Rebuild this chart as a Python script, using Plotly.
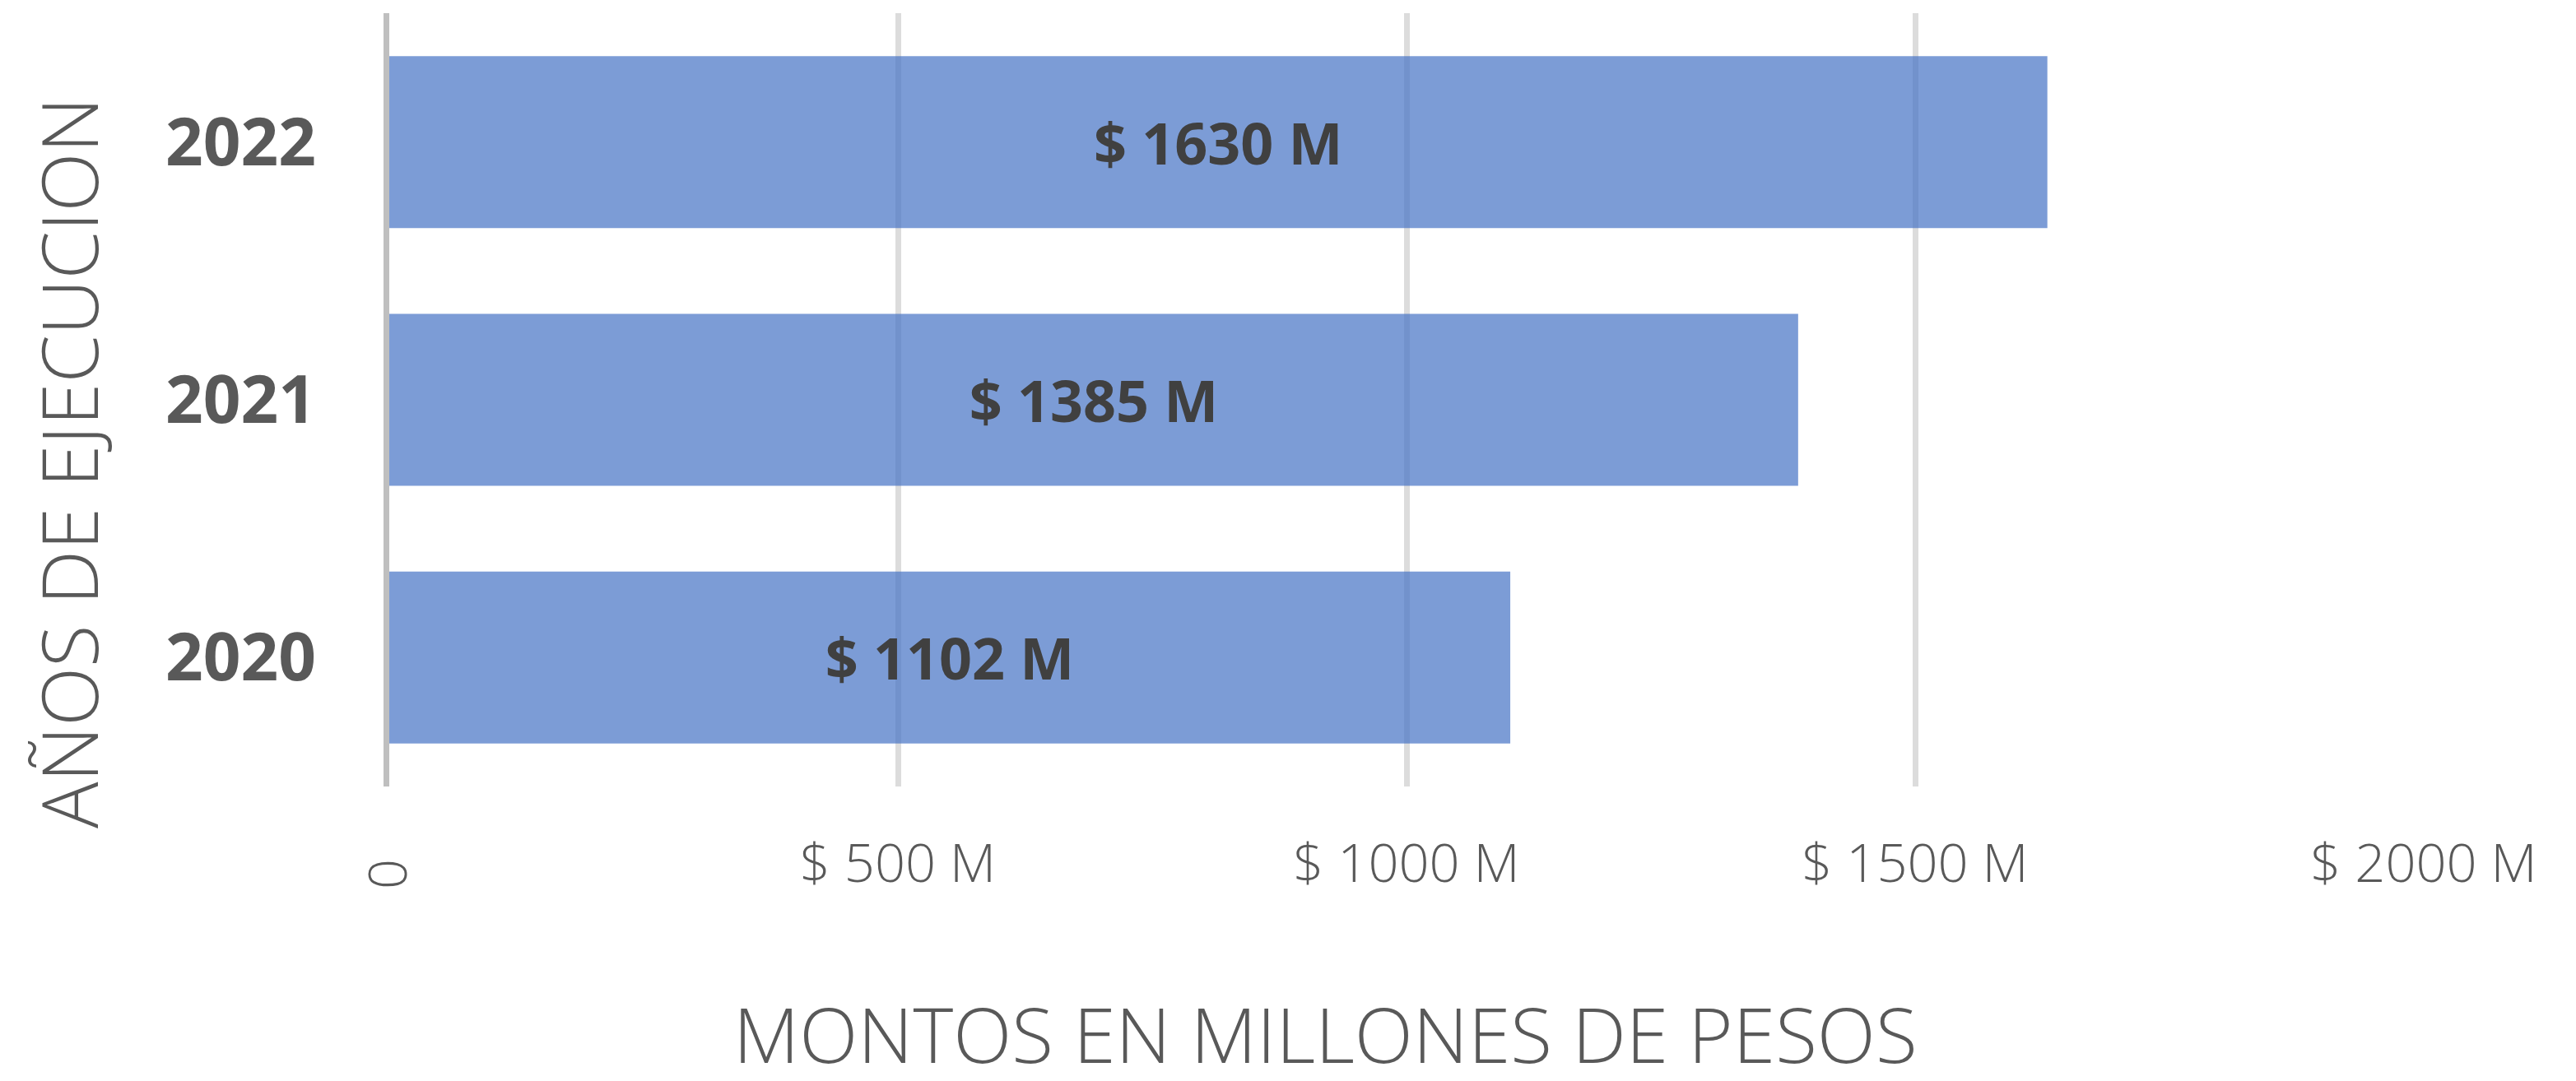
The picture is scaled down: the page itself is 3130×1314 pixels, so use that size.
import plotly.graph_objects as go

# ---- data ----
years = ["2020", "2021", "2022"]
montos = [1102, 1385, 1630]
bar_labels = ["$ 1102 M", "$ 1385 M", "$ 1630 M"]
x_tickvals = [0, 500, 1000, 1500, 2000]
x_ticktext = ["", "$ 500 M", "$ 1000 M", "$ 1500 M", "$ 2000 M"]
zero_label = "0"
x_title = "MONTOS EN MILLONES DE PESOS"
y_title = "AÑOS DE EJECUCION"

W, H = 3130, 1314
L, R, T, B = 473, 185, 16, 358
pw, ph = W - L - R, H - T - B

def px_to_paper_x(px):
    return (px - L) / pw

def px_to_paper_y(py):
    return (H - B - py) / ph

font_family = "Open Sans, Segoe UI, DejaVu Sans, sans-serif"

fig = go.Figure()
fig.add_trace(go.Bar(
    y=years, x=montos, orientation="h",
    marker=dict(color="rgba(68,114,196,0.7)", line=dict(width=0)),
    text=bar_labels, textposition="inside", insidetextanchor="middle",
    textangle=0,
    textfont=dict(family=font_family, size=70, color="#404040", weight="bold"),
    hoverinfo="skip",
))

fig.update_layout(
    width=W, height=H,
    margin=dict(l=L, r=R, t=T, b=B, pad=0),
    paper_bgcolor="white", plot_bgcolor="white",
    bargap=0.333,
    showlegend=False,
)

fig.update_xaxes(
    range=[0, 2000],
    tickvals=x_tickvals, ticktext=x_ticktext,
    showgrid=True, gridcolor="#dcdcdc", gridwidth=7,
    zeroline=False, showline=False,
    ticks="outside", ticklen=37, tickcolor="rgba(0,0,0,0)",
    tickfont=dict(family=font_family, size=65, color="#595959", weight=300),
)

fig.update_yaxes(
    type="category", categoryorder="array", categoryarray=years,
    showgrid=False, zeroline=False,
    showline=True, linecolor="#bfbfbf", linewidth=7,
    ticks="outside", ticklen=66, tickcolor="rgba(0,0,0,0)",
    tickfont=dict(family=font_family, size=80, color="#595959", weight="bold"),
)

# rotated zero tick label
fig.add_annotation(
    x=0, xref="x", y=px_to_paper_y(1062), yref="paper",
    text=zero_label, textangle=90, showarrow=False,
    xanchor="center", yanchor="middle",
    font=dict(family=font_family, size=65, color="#595959", weight=300),
)

# axis titles
fig.add_annotation(
    x=px_to_paper_x(1610), xref="paper", y=px_to_paper_y(1256), yref="paper",
    text=x_title, showarrow=False, xanchor="center", yanchor="middle",
    font=dict(family=font_family, size=93, color="#595959", weight=300),
)
fig.add_annotation(
    x=px_to_paper_x(83), xref="paper", y=px_to_paper_y(562), yref="paper",
    text=y_title, textangle=-90, showarrow=False, xanchor="center", yanchor="middle",
    font=dict(family=font_family, size=94, color="#595959", weight=300),
)

fig.write_html(
    "out.html",
    config={"displayModeBar": False, "staticPlot": True},
    post_script="document.body.style.margin='0';document.body.style.overflow='hidden';",
)
